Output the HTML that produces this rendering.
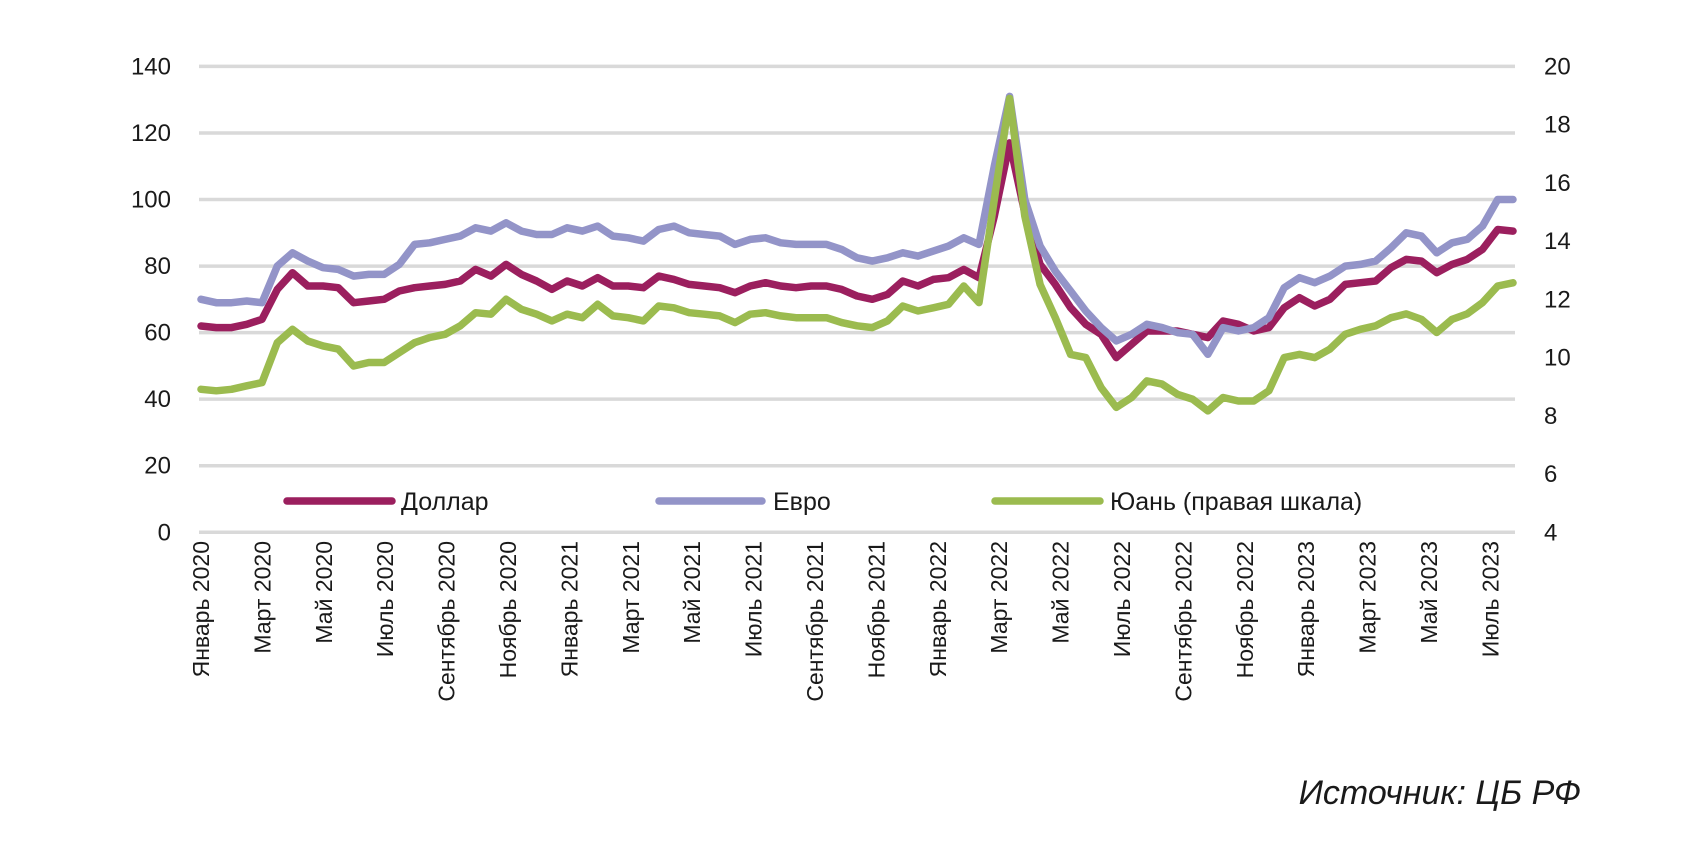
<!DOCTYPE html>
<html><head><meta charset="utf-8"><style>
body{margin:0;background:#fff;}
svg{display:block;}
text{font-family:"Liberation Sans Narrow","Liberation Sans",sans-serif;fill:#1a1a1a;}
</style></head><body>
<svg id="chart" width="1707" height="850" viewBox="0 0 1707 850">
<g id="grid"></g>
<g id="yl"></g>
<g id="yr"></g>
<g id="xl"></g>
<g id="series"></g>
<g>
<g><line x1="287" y1="501" x2="392" y2="501" stroke="#9b1f5e" stroke-width="7.5" stroke-linecap="round"/><text x="401" y="510" font-size="25">Доллар</text></g>
<g><line x1="659" y1="501" x2="762" y2="501" stroke="#9394c8" stroke-width="7.5" stroke-linecap="round"/><text x="773" y="510" font-size="25">Евро</text></g>
<g><line x1="995" y1="501" x2="1100" y2="501" stroke="#9bbb4f" stroke-width="7.5" stroke-linecap="round"/><text x="1110" y="510" font-size="25">Юань (правая шкала)</text></g>
</g>
<text x="1581" y="804" font-size="34" font-style="italic" text-anchor="end">Источник: ЦБ РФ</text>
</svg>
<script>
const xLabels=["Январь 2020","Март 2020","Май 2020","Июль 2020","Сентябрь 2020","Ноябрь 2020","Январь 2021","Март 2021","Май 2021","Июль 2021","Сентябрь 2021","Ноябрь 2021","Январь 2022","Март 2022","Май 2022","Июль 2022","Сентябрь 2022","Ноябрь 2022","Январь 2023","Март 2023","Май 2023","Июль 2023"];
const leftTicks=[0,20,40,60,80,100,120,140];
const rightTicks=[4,6,8,10,12,14,16,18,20];
const dollar=[62,61.5,61.5,62.5,64,73,78,74,74,73.5,69,69.5,70,72.5,73.5,74,74.5,75.5,79,77,80.5,77.5,75.5,73,75.5,74,76.5,74,74,73.5,77,76,74.5,74,73.5,72,74,75,74,73.5,74,74,73,71,70,71.5,75.5,74,76,76.5,79,76.5,95,117,96,80.5,74.5,67.5,62.5,59.5,52.5,56.5,60.5,60.5,60.5,59.5,58.5,63.5,62.5,60.5,61.5,67.5,70.5,68,70,74.5,75,75.5,79.5,82,81.5,78,80.5,82,85,91,90.5];
const euro=[70,69,69,69.5,69,80,84,81.5,79.5,79,77,77.5,77.5,80.5,86.5,87,88,89,91.5,90.5,93,90.5,89.5,89.5,91.5,90.5,92,89,88.5,87.5,91,92,90,89.5,89,86.5,88,88.5,87,86.5,86.5,86.5,85,82.5,81.5,82.5,84,83,84.5,86,88.5,86.5,110,131,100,86,78.5,72.5,66.5,61.5,57.5,59.5,62.5,61.5,60,59.5,53.5,61.5,60.5,61.5,64.5,73.5,76.5,75,77,80,80.5,81.5,85.5,90,89,84,87,88,92,100,100];
const yuan=[8.91,8.86,8.91,9.03,9.14,10.51,10.97,10.57,10.4,10.29,9.71,9.83,9.83,10.17,10.51,10.69,10.8,11.09,11.54,11.49,12.0,11.66,11.49,11.26,11.49,11.37,11.83,11.43,11.37,11.26,11.77,11.71,11.54,11.49,11.43,11.2,11.49,11.54,11.43,11.37,11.37,11.37,11.2,11.09,11.03,11.26,11.77,11.6,11.71,11.83,12.46,11.89,15.43,18.9,14.86,12.51,11.37,10.11,10.0,8.97,8.29,8.63,9.2,9.09,8.74,8.57,8.17,8.63,8.51,8.51,8.86,10.0,10.11,10.0,10.29,10.8,10.97,11.09,11.37,11.5,11.31,10.86,11.31,11.5,11.89,12.46,12.57];

const NS="http://www.w3.org/2000/svg";
const X0=201,X1=1513,GY0=532.3,GY140=66.4;
const xScale=i=>X0+(X1-X0)*i/(dollar.length-1);
const yL=v=>GY0-(GY0-GY140)*v/140;
const yR=v=>GY0-(GY0-GY140)*(v-4)/16;
function mk(tag,attrs,parent){const e=document.createElementNS(NS,tag);for(const k in attrs)e.setAttribute(k,attrs[k]);parent.appendChild(e);return e;}
const grid=document.getElementById('grid'),yl=document.getElementById('yl'),yr=document.getElementById('yr'),xl=document.getElementById('xl'),ser=document.getElementById('series');
leftTicks.forEach(v=>{
 const g=mk('line',{x1:199,x2:1515,y1:yL(v),y2:yL(v),stroke:'#d9d9d9','stroke-width':3.5},grid);
 
 
 const t=mk('text',{x:171,y:yL(v)+8,'font-size':24,'text-anchor':'end'},yl);t.textContent=v;
 
 
});
rightTicks.forEach(v=>{
 const t=mk('text',{x:1544,y:yR(v)+8,'font-size':24},yr);t.textContent=v;
 
 
});
xLabels.forEach((s,i)=>{
 const x=201+61.4*i;
 const t=mk('text',{x:0,y:0,'font-size':23,'text-anchor':'end',transform:`translate(${x+8},541) rotate(-90)`},xl);t.textContent=s;
 
 
});
function draw(arr,yf,col,name){
 const d=arr.map((v,i)=>(i?'L':'M')+xScale(i).toFixed(1)+' '+yf(v).toFixed(1)).join(' ');
 const p=mk('path',{d:d,fill:'none',stroke:col,'stroke-width':7.5,'stroke-linejoin':'round','stroke-linecap':'round'},ser);
 
 
}
draw(dollar,yL,'#9b1f5e','dollar-line');
draw(euro,yL,'#9394c8','euro-line');
draw(yuan,yR,'#9bbb4f','yuan-line');
</script>
</body></html>
